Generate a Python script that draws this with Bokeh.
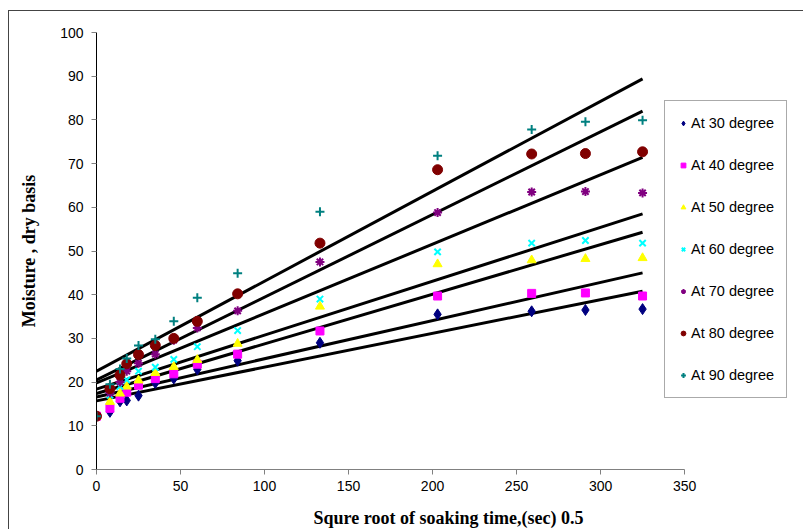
from bokeh.plotting import figure
from bokeh.models import Range1d, Legend, LegendItem, FixedTicker
from bokeh.embed import file_html
from bokeh.resources import INLINE

# ---- data ----
sqrt_time = [0, 8, 14, 18, 25, 35, 46, 60, 84, 133, 203, 259, 291, 325]

series_names = ["At 30 degree", "At 40 degree", "At 50 degree", "At 60 degree",
                "At 70 degree", "At 80 degree", "At 90 degree"]

m30 = [12.2, 13.2, 15.6, 15.8, 16.9, 19.8, 20.8, 22.9, 24.9, 29.0, 35.5, 36.2, 36.5, 36.7]
m40 = [12.2, 14.0, 16.3, 17.7, 19.3, 20.8, 21.9, 24.1, 26.4, 31.7, 39.7, 40.3, 40.4, 39.7]
m50 = [12.2, 15.5, 17.4, 19.0, 20.4, 22.1, 23.5, 25.1, 28.8, 37.3, 47.0, 47.9, 48.2, 48.4]
m60 = [12.2, 17.0, 19.0, 20.5, 22.5, 23.4, 25.2, 28.1, 31.8, 39.0, 49.8, 51.8, 52.4, 51.8]
m70 = [12.2, 17.5, 20.0, 22.5, 24.3, 26.4, 29.6, 32.4, 36.3, 47.5, 58.8, 63.5, 63.6, 63.3]
m80 = [12.2, 18.5, 21.6, 24.2, 26.3, 28.4, 30.0, 33.9, 40.2, 51.8, 68.6, 72.2, 72.3, 72.7]
m90 = [12.2, 19.5, 23.0, 25.4, 28.4, 29.8, 33.9, 39.3, 44.9, 59.0, 71.8, 77.8, 79.6, 79.9]

# linear trend lines: value at x=0 and at the last x
trend_start = [15.7, 16.6, 17.4, 18.4, 19.8, 20.5, 22.5]
trend_end = [40.8, 45.0, 54.3, 58.5, 71.4, 82.0, 89.4]

x_ticks = [0, 50, 100, 150, 200, 250, 300, 350]
y_ticks = [0, 10, 20, 30, 40, 50, 60, 70, 80, 90, 100]

series_values = [m30, m40, m50, m60, m70, m80, m90]
markers = ["diamond", "square", "triangle", "x", "asterisk", "circle", "cross"]
colors = ["#000080", "#FF00FF", "#FFFF00", "#00FFFF", "#800080", "#800000", "#008080"]
sizes = [11, 8, 9, 9, 9, 10, 9]

# frame spans past x=350 so the legend (which overlaps the plot edge) is not clipped;
# the x axis itself is bounded to 0..350
p = figure(width=795, height=519, output_backend="svg", toolbar_location=None,
           x_range=Range1d(0, 419), y_range=Range1d(0, 100),
           min_border_left=87, min_border_right=4, min_border_top=21, min_border_bottom=60)
p.styles = {"margin-left": "8px", "margin-top": "10px",
            "border-left": "1px solid #444", "border-top": "1px solid #444"}
p.outline_line_color = None
p.xgrid.visible = False
p.ygrid.visible = False
p.background_fill_color = "white"
p.border_fill_color = "white"

# trend lines
x_end = sqrt_time[-1]
for s, e in zip(trend_start, trend_end):
    p.line([0, x_end], [s, e], line_color="black", line_width=3)

items = []
for name, vals, mk, c, sz in zip(series_names, series_values, markers, colors, sizes):
    lw = 2 if mk in ("x", "asterisk", "cross") else 1
    r = p.scatter(sqrt_time, vals, marker=mk, size=sz,
                  fill_color=c, line_color=c, line_width=lw)
    items.append(LegendItem(label=name, renderers=[r]))

legend = Legend(items=items, location=(568, 71), orientation="vertical")
legend.label_text_font = "Liberation Sans"
legend.label_text_font_size = "14.5px"
legend.label_text_color = "black"
legend.glyph_width = 12
legend.glyph_height = 20
legend.label_height = 20
legend.label_standoff = 2
legend.spacing = 22
legend.padding = 12
legend.margin = 0
legend.border_line_color = "#555555"
legend.border_line_width = 1
legend.background_fill_alpha = 1
p.add_layout(legend, "center")

for ax in (p.xaxis[0], p.yaxis[0]):
    ax.major_label_text_font = "Liberation Sans"
    ax.major_label_text_font_size = "14px"
    ax.major_label_text_color = "black"
    ax.axis_label_text_font = "Liberation Serif"
    ax.axis_label_text_font_style = "bold"
    ax.axis_label_text_font_size = "18px"
    ax.axis_label_text_color = "black"
    ax.minor_tick_line_color = None
    ax.major_tick_in = 0
    ax.major_tick_out = 5

p.xaxis.ticker = FixedTicker(ticks=x_ticks)
p.yaxis.ticker = FixedTicker(ticks=y_ticks)
p.xaxis.bounds = (0, 350)
p.xaxis.axis_label = "Squre root of soaking time,(sec) 0.5"
p.yaxis.axis_label = "Moisture , dry basis"
p.xaxis.axis_line_color = "#808080"
p.xaxis.major_tick_line_color = "#808080"
p.yaxis.axis_line_color = "black"
p.yaxis.major_tick_line_color = "#808080"
p.xaxis.major_label_standoff = 6
p.yaxis.major_label_standoff = 8
p.xaxis.axis_label_standoff = 14
p.yaxis.axis_label_standoff = 18

open("out.html", "w").write(file_html(p, INLINE))
